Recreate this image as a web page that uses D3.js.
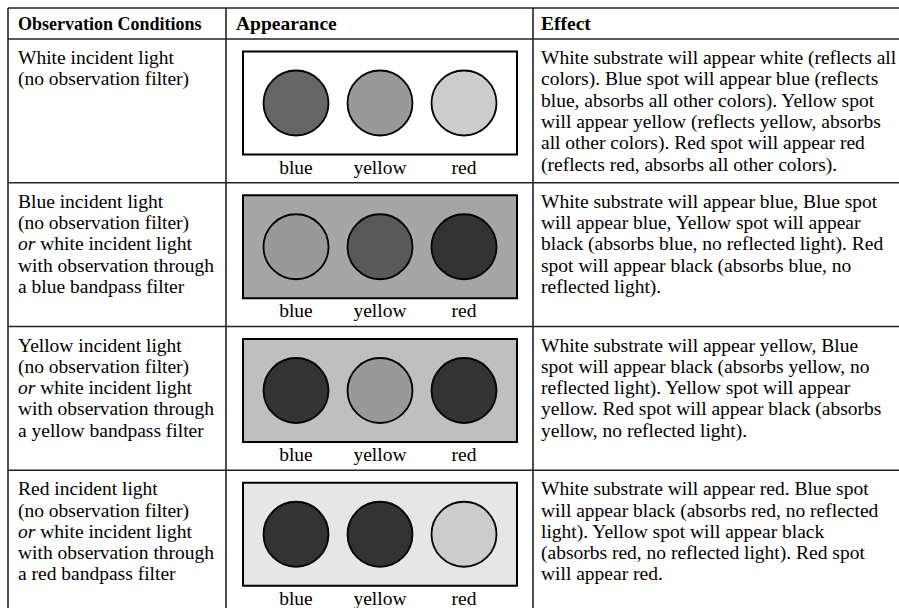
<!DOCTYPE html>
<html><head><meta charset="utf-8">
<script src="https://cdn.jsdelivr.net/npm/d3@7"></script>
<style>html,body{margin:0;padding:0;background:#fff;}svg{display:block;}</style>
</head><body>
<svg id="c" width="899" height="608"></svg>
<script>
const headers = ["Observation Conditions", "Appearance", "Effect"];
const spots = ["blue", "yellow", "red"];
const conditions = [
  ["White incident light", "(no observation filter)"],
  ["Blue incident light", "(no observation filter)", "*or* white incident light", "with observation through", "a blue bandpass filter"],
  ["Yellow incident light", "(no observation filter)", "*or* white incident light", "with observation through", "a yellow bandpass filter"],
  ["Red incident light", "(no observation filter)", "*or* white incident light", "with observation through", "a red bandpass filter"]
];
const substrateShade = ["#ffffff", "#a6a6a6", "#bfbfbf", "#e6e6e6"];
const spotShades = [
  ["#666666", "#999999", "#cccccc"],
  ["#999999", "#595959", "#333333"],
  ["#333333", "#999999", "#333333"],
  ["#333333", "#333333", "#cccccc"]
];
const effects = [
  ["White substrate will appear white (reflects all", "colors). Blue spot will appear blue (reflects", "blue, absorbs all other colors). Yellow spot", "will appear yellow (reflects yellow, absorbs", "all other colors). Red spot will appear red", "(reflects red, absorbs all other colors)."],
  ["White substrate will appear blue, Blue spot", "will appear blue, Yellow spot will appear", "black (absorbs blue, no reflected light). Red", "spot will appear black (absorbs blue, no", "reflected light)."],
  ["White substrate will appear yellow, Blue", "spot will appear black (absorbs yellow, no", "reflected light). Yellow spot will appear", "yellow. Red spot will appear black (absorbs", "yellow, no reflected light)."],
  ["White substrate will appear red. Blue spot", "will appear black (absorbs red, no reflected", "light). Yellow spot will appear black", "(absorbs red, no reflected light). Red spot", "will appear red."]
];

const svg = d3.select("#c");
const font = "'Liberation Serif','Times New Roman',serif";
const fs = 19.5;
const rowIdx = d3.range(conditions.length);
const y = d3.scaleBand().domain(rowIdx).range([39, 614]).padding(0);
const colX = [8, 226, 533, 905];
const headTop = 8;
const lineH = 21.3;
const line = "#222";

// header text
svg.selectAll("text.h").data(headers).join("text")
  .attr("x", (d, i) => colX[i] + 10 - (i === 2 ? 2 : 0))
  .attr("y", 30)
  .attr("font-family", font).attr("font-weight", "bold")
  .attr("font-size", (d, i) => i === 0 ? 18 : 19.5)
  .attr("fill", "#000").text(d => d);

// appearance boxes
const boxX = [243, 517];
const xs = d3.scalePoint().domain(spots).range(boxX).padding(0.631);
const rows = svg.selectAll("g.row").data(rowIdx).join("g").attr("class", "row")
  .attr("transform", d => `translate(0,${y(d)})`);

rows.append("rect")
  .attr("x", boxX[0]).attr("y", 12.5)
  .attr("width", boxX[1] - boxX[0]).attr("height", 103)
  .attr("fill", d => substrateShade[d]).attr("stroke", "#000").attr("stroke-width", 2);

rows.each(function(r) {
  const g = d3.select(this);
  g.selectAll("circle").data(spots).join("circle")
    .attr("cx", s => xs(s))
    .attr("cy", 64)
    .attr("r", 32.5)
    .attr("fill", (s, i) => spotShades[r][i])
    .attr("stroke", "#000").attr("stroke-width", 1.8);
  g.selectAll("text.lab").data(spots).join("text").attr("class", "lab")
    .attr("x", s => xs(s))
    .attr("y", 134.5)
    .attr("text-anchor", "middle")
    .attr("font-family", font).attr("font-size", fs).attr("fill", "#000")
    .text(s => s);
  const ct = g.append("text").attr("font-family", font).attr("font-size", fs).attr("fill", "#000");
  conditions[r].forEach((ln, k) => {
    const t = ct.append("tspan").attr("x", colX[0] + 10).attr("y", 25 + k * lineH);
    const m = ln.match(/^\*(.+?)\*(.*)$/);
    if (m) {
      t.append("tspan").attr("font-style", "italic").text(m[1]);
      t.append("tspan").text(m[2]);
    } else t.text(ln);
  });
  const et = g.append("text").attr("font-family", font).attr("font-size", fs).attr("fill", "#000");
  effects[r].forEach((ln, k) => {
    et.append("tspan").attr("x", colX[2] + 8).attr("y", 25 + k * lineH).text(ln);
  });
});

// grid lines
const hy = [headTop, 39].concat(rowIdx.slice(1).map(r => y(r)));
svg.selectAll("line.hz").data(hy).join("line")
  .attr("x1", colX[0]).attr("x2", 899).attr("y1", d => d).attr("y2", d => d)
  .attr("stroke", line).attr("stroke-width", 1.6);
svg.selectAll("line.vt").data(colX.slice(0, 3)).join("line")
  .attr("x1", d => d).attr("x2", d => d).attr("y1", headTop).attr("y2", 608)
  .attr("stroke", line).attr("stroke-width", 1.6);
</script>
</body></html>
